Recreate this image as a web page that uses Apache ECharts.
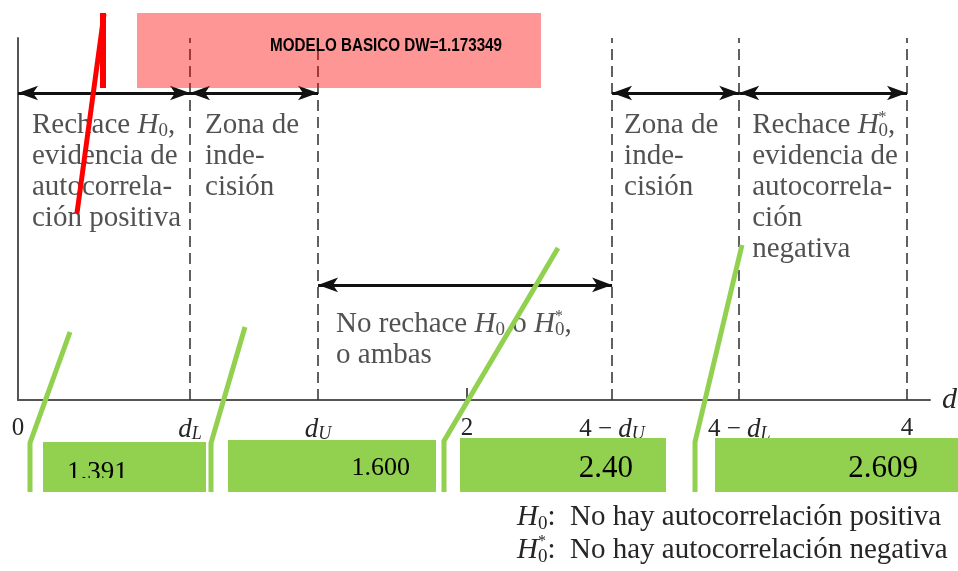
<!DOCTYPE html>
<html><head><meta charset="utf-8">
<script src="https://cdn.jsdelivr.net/npm/echarts@6/dist/echarts.min.js"></script>
<style>html,body{margin:0;padding:0;background:#fff}#c{width:958px;height:571px}</style>
</head><body><div id="c"></div>
<script>
// ---- data ----
const boundaryLabels = ['0', '{i|d}{s|L}', '{i|d}{s|U}', '2', '4 − {i|d}{s|U}', '4 − {i|d}{s|L}', '4'];
const boundaryPos = [0, 0.774, 1.35, 2.02, 2.673, 3.245, 4];
const dashedAt = [0.774, 1.35, 2.673, 3.245, 4];
const topArrows = [[0, 0.774], [0.774, 1.35], [2.673, 3.245], [3.245, 4]];
const midArrow = [1.35, 2.673];
const topArrowY = 0.848;
const midArrowY = 0.318;
const zoneStarts = [0, 0.774, 1.35, 2.673, 3.245];
const zoneTextY = [0.802, 0.802, 0.253, 0.802, 0.802];
const zoneTexts = [
  'Rechace {i|H}{sub|0},\nevidencia de\nautocorrela-\nción positiva',
  'Zona de\ninde-\ncisión',
  'No rechace {i|H}{sub|0} o {i|H}{sup|*}{sub|0},\no ambas',
  'Zona de\ninde-\ncisión',
  'Rechace {i|H}{sup|*}{sub|0},\nevidencia de\nautocorrela-\nción\nnegativa'
];
const hypotheses = [
  '{i|H}{sub|0}:  No hay autocorrelación positiva',
  '{i|H}{sup|*}{sub|0}:  No hay autocorrelación negativa'
];
const criticalValues = ['1.391', '1.600', '2.40', '2.609'];
const modelLabel = 'MODELO BASICO';
const dwValue = '1.173349';

// ---- styling ----
const SERIF = '"Liberation Serif", "Times New Roman", serif';
const TXT = '#262626';
const richBase = {
  i: { fontFamily: SERIF, fontSize: 29, fontStyle: 'italic', color: TXT, lineHeight: 31 },
  sub: { fontFamily: SERIF, fontSize: 19, color: TXT, lineHeight: 15, verticalAlign: 'bottom' },
  sup: { fontFamily: SERIF, fontSize: 16, color: TXT, lineHeight: 20, verticalAlign: 'top', width: 0 }
};
const zoneOffsets = [14, 15, 18, 12, 13];

const chart = echarts.init(document.getElementById('c'), null, { renderer: 'canvas' });

const dashedData = dashedAt.map(x => [{ coord: [x, 0] }, { coord: [x, 1] }]);
const arrowData = topArrows.map(a => [{ coord: [a[0], topArrowY] }, { coord: [a[1], topArrowY] }])
  .concat([[{ coord: [midArrow[0], midArrowY] }, { coord: [midArrow[1], midArrowY] }]]);

const GREEN = '#92D050';
const greenLines = [
  [[70, 332], [30, 443], [30, 492]],
  [[245, 327], [211, 443], [211, 492]],
  [[558, 248], [444, 441], [444, 492]],
  [[742, 245], [695, 442], [695, 492]]
];
const greenRects = [[43, 442, 163, 50], [228, 440, 208, 52], [460, 438, 206, 54], [715, 438, 243, 54]];
const valueTextPos = [[67, 473, 'left', 27], [410, 468, 'right', 26], [633, 469, 'right', 31], [918, 469, 'right', 31]];

const graphics = [];
greenRects.forEach(r => graphics.push({ type: 'rect', z: 100, shape: { x: r[0], y: r[1], width: r[2], height: r[3] }, style: { fill: GREEN } }));
criticalValues.forEach((v, k) => {
  const p = valueTextPos[k];
  graphics.push({ type: 'text', z: 101, style: { text: v, x: p[0], y: p[1], font: p[3] + 'px ' + SERIF, fill: '#000', align: p[2], textAlign: p[2], verticalAlign: 'middle', textVerticalAlign: 'middle' } });
});
graphics.push({ type: 'rect', z: 102, shape: { x: 43, y: 478, width: 163, height: 14 }, style: { fill: GREEN } });
greenLines.forEach(pts => graphics.push({ type: 'polyline', z: 103, shape: { points: pts }, style: { stroke: GREEN, lineWidth: 5, fill: null, lineJoin: 'miter' } }));
// pink model box
graphics.push({ type: 'rect', z: 104, shape: { x: 137, y: 13, width: 404, height: 75 }, style: { fill: 'rgba(255,0,0,0.41)' } });
graphics.push({ type: 'text', z: 105, x: 270, y: 46, scaleX: 0.845, scaleY: 1,
  style: { text: modelLabel + ' DW=' + dwValue, x: 0, y: 0, font: 'bold 18px "Liberation Sans", Arial, sans-serif', fill: '#000', align: 'left', textAlign: 'left', verticalAlign: 'middle', textVerticalAlign: 'middle' } });
// red pointer
graphics.push({ type: 'line', z: 106, shape: { x1: 103, y1: 13, x2: 103, y2: 88 }, style: { stroke: '#FF0000', lineWidth: 6 } });
graphics.push({ type: 'line', z: 106, shape: { x1: 104, y1: 14, x2: 77, y2: 213 }, style: { stroke: '#FF0000', lineWidth: 5 } });
// hypotheses legend
graphics.push({ type: 'text', z: 50, style: {
  text: hypotheses.join('\n'), x: 517, y: 501, fill: TXT,
  font: '29px ' + SERIF, align: 'left', verticalAlign: 'top', textAlign: 'left', textVerticalAlign: 'top',
  lineHeight: 33,
  rich: {
    i: { fontFamily: SERIF, fontSize: 29, fontStyle: 'italic', fill: TXT, lineHeight: 33 },
    sub: { fontFamily: SERIF, fontSize: 19, fill: TXT, lineHeight: 16, verticalAlign: 'bottom' },
    sup: { fontFamily: SERIF, fontSize: 16, fill: TXT, lineHeight: 22, verticalAlign: 'top', width: 0 }
  }
} });

const option = {
  animation: false,
  backgroundColor: '#fff',
  grid: { left: 18, right: 28, top: 38, bottom: 171, outerBoundsMode: 'none', containLabel: false },
  xAxis: {
    type: 'value', min: 0, max: 4.1035,
    axisLine: { show: true, lineStyle: { color: '#555', width: 2 } },
    axisTick: { show: true, customValues: [boundaryPos[3]], inside: true, length: 12, lineStyle: { color: '#555', width: 2 } },
    splitLine: { show: false },
    axisLabel: {
      show: true, customValues: boundaryPos, margin: 16,
      fontFamily: SERIF, fontSize: 25, color: TXT,
      formatter: function (v) {
        let best = 0;
        boundaryPos.forEach((p, k) => { if (Math.abs(p - v) < Math.abs(boundaryPos[best] - v)) best = k; });
        return boundaryLabels[best];
      },
      rich: {
        i: { fontFamily: SERIF, fontSize: 27, fontStyle: 'italic', color: TXT, lineHeight: 27 },
        s: { fontFamily: SERIF, fontSize: 18, fontStyle: 'italic', color: TXT, lineHeight: 12, verticalAlign: 'bottom' }
      }
    },
    name: 'd', nameLocation: 'end', nameGap: 12,
    nameTextStyle: { fontFamily: SERIF, fontStyle: 'italic', fontSize: 30, color: TXT, verticalAlign: 'middle', padding: [0, 0, 4, 0] }
  },
  yAxis: {
    type: 'value', min: 0, max: 1,
    axisLine: { show: true, lineStyle: { color: '#555', width: 2 } },
    axisTick: { show: false }, axisLabel: { show: false }, splitLine: { show: false }
  },
  series: [
    {
      type: 'scatter', symbolSize: 0, silent: true, data: [],
      markLine: {
        silent: true, symbol: ['none', 'none'], label: { show: false },
        lineStyle: { color: '#3a3a3a', width: 1.6, type: [11, 6] },
        emphasis: { disabled: true },
        data: dashedData
      }
    },
    {
      type: 'scatter', symbolSize: 0, silent: true, data: [],
      markLine: {
        silent: true, symbol: ['arrow', 'arrow'], symbolSize: [11, 20], label: { show: false },
        lineStyle: { color: '#111', width: 3, type: 'solid' },
        emphasis: { disabled: true },
        data: arrowData
      }
    },
    {
      type: 'scatter', symbolSize: 0, silent: true,
      data: zoneStarts.map((x, k) => ({
        value: [x, zoneTextY[k]],
        label: { formatter: zoneTexts[k], offset: [zoneOffsets[k], 0] }
      })),
      label: {
        show: true, position: [0, 0], align: 'left', verticalAlign: 'top',
        fontFamily: SERIF, fontSize: 29, lineHeight: 31, color: TXT,
        rich: richBase
      }
    }
  ],
  graphic: graphics
};
chart.setOption(option);
</script>
</body></html>
